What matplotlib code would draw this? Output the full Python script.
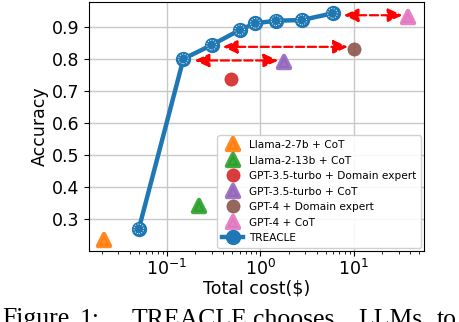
import numpy as np
import matplotlib
matplotlib.use('Agg')
import matplotlib.pyplot as plt
from matplotlib.markers import MarkerStyle

plt.rcParams.update({
    'font.family': 'DejaVu Sans',
    'font.size': 12.5,
})

# ── data ───────────────────────────────────────────────────────────────────
treacle_cost = [0.05, 0.15, 0.30, 0.60, 0.88, 1.47, 2.77, 5.9]
treacle_acc  = [0.27, 0.80, 0.843, 0.89, 0.911, 0.919, 0.921, 0.942]

model_names = ['Llama-2-7b + CoT', 'Llama-2-13b + CoT',
               'GPT-3.5-turbo + Domain expert', 'GPT-3.5-turbo + CoT',
               'GPT-4 + Domain expert', 'GPT-4 + CoT']
model_cost  = [0.021, 0.22, 0.48, 1.78, 9.9, 38.0]
model_acc   = [0.235, 0.342, 0.737, 0.790, 0.832, 0.930]
model_color = ['#ff7f0e', '#2ca02c', '#d62728', '#9467bd', '#8c564b', '#e377c2']
model_mark  = ['^', '^', 'o', '^', 'o', '^']

# (TREACLE point index, model index) pairs joined by red arrows
arrow_pairs = [(1, 3), (2, 4), (7, 5)]

caption_words = ['Figure', '1:', 'TREACLE', 'chooses', 'LLMs', 'to']
caption_x_px  = [2, 80, 132, 253, 358, 437]

# ── figure ─────────────────────────────────────────────────────────────────
fig = plt.figure(figsize=(4.6, 3.22), dpi=100)
ax = fig.add_axes([0.1935, 0.2205, 0.728, 0.773])

ax.grid(True, which='major', color='#c8c8c8', lw=1.0)
ax.set_axisbelow(True)

for name, c, a, col, m in zip(model_names, model_cost, model_acc,
                              model_color, model_mark):
    if m == '^':
        ms = MarkerStyle('^', joinstyle='round')
        ax.plot([c], [a], ls='none', marker=ms, ms=8, mfc=col, mec=col,
                mew=3.2, alpha=0.9, label=name)
    else:
        ax.plot([c], [a], ls='none', marker='o', ms=9.5, mfc=col, mec=col,
                mew=0.5, alpha=0.9, label=name)

ax.plot(treacle_cost, treacle_acc, color='#1f77b4', lw=3.2, marker='o',
        ms=10, mfc='#1f77b4', mec='#1f77b4', label='TREACLE', zorder=3)
ax.scatter(treacle_cost, treacle_acc, s=48, facecolors='none',
           edgecolors='white', linewidths=0.7, linestyles=':', zorder=4)

for ti, mi in arrow_pairs:
    y = (treacle_acc[ti] + model_acc[mi]) / 2
    ax.annotate('', xy=(model_cost[mi], y), xytext=(treacle_cost[ti], y),
                arrowprops=dict(arrowstyle='<|-|>,head_length=0.7,head_width=0.32',
                                color='red', lw=1.6, ls='--',
                                shrinkA=8, shrinkB=4),
                zorder=2)

ax.set_xscale('log')
ax.set_xlim(0.01466, 56.0)
ax.set_ylim(0.201, 0.977)
ax.set_yticks([0.3, 0.4, 0.5, 0.6, 0.7, 0.8, 0.9])
ax.tick_params(axis='x', pad=2.5)
ax.set_xlabel('Total cost($)', labelpad=0)
ax.set_ylabel('Accuracy', labelpad=2)

ax.legend(loc='lower right', fontsize=7.6, labelspacing=0.52,
          borderaxespad=0.3, handletextpad=0.5, framealpha=0.9,
          borderpad=0.45)

for w, xp in zip(caption_words, caption_x_px):
    fig.text(xp / 460, (322 - 325.5) / 322, w, family='Liberation Serif',
             fontsize=18.5, va='baseline', ha='left')

fig.savefig('out.png', dpi=100)
